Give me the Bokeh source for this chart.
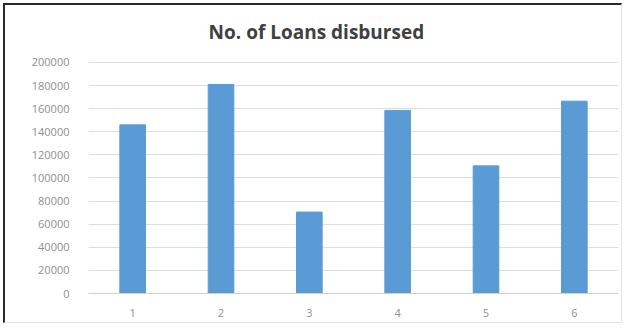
from bokeh.plotting import figure
from bokeh.models import FixedTicker, NumeralTickFormatter, Label
from bokeh.embed import file_html
from bokeh.resources import INLINE

title_text = "No. of Loans disbursed"
categories = ["1", "2", "3", "4", "5", "6"]
loans = [146000, 181000, 70500, 158500, 110500, 166500]
y_ticks = [0, 20000, 40000, 60000, 80000, 100000, 120000, 140000, 160000, 180000, 200000]

# the frame reaches the top of the chart so the title can sit inside it
p = figure(x_range=categories, y_range=(0, 249350), width=619, height=320,
           output_backend="svg", toolbar_location=None,
           min_border_left=83, min_border_right=6, min_border_top=0, min_border_bottom=32,
           styles={"margin-top": "3px", "margin-left": "3px",
                   "border-top": "2px solid #2a2a2a", "border-left": "2px solid #2a2a2a",
                   "border-right": "1px solid #e4e4e4", "border-bottom": "1px solid #e4e4e4"})
p.x_range.range_padding = 0

p.vbar(x=categories, top=loans, width=0.29, color="#5b9bd5")

title = Label(x=2.58, y=226800, text=title_text, text_align="center", text_baseline="middle",
              text_font="Open Sans", text_font_size="19px", text_font_style="bold",
              text_color="#404040")
p.add_layout(title)

p.outline_line_color = None
p.xgrid.grid_line_color = None
p.ygrid.grid_line_color = "#dedede"
p.ygrid.ticker = FixedTicker(ticks=y_ticks)

p.yaxis.ticker = FixedTicker(ticks=y_ticks)
p.yaxis.formatter = NumeralTickFormatter(format="0")
p.yaxis.axis_line_color = None
p.yaxis.major_tick_line_color = None
p.yaxis.minor_tick_line_color = None
p.yaxis.major_label_text_font_size = "11px"
p.yaxis.major_label_text_color = "#8f8f8f"
p.yaxis.major_label_standoff = 13
p.yaxis.major_label_text_font = "Open Sans"

p.xaxis.axis_line_color = "#d0d0d0"
p.xaxis.major_tick_line_color = None
p.xaxis.minor_tick_line_color = None
p.xaxis.major_label_text_font_size = "11px"
p.xaxis.major_label_text_color = "#8f8f8f"
p.xaxis.major_label_standoff = 9
p.xaxis.major_label_text_font = "Open Sans"

open("out.html", "w").write(file_html(p, INLINE))
